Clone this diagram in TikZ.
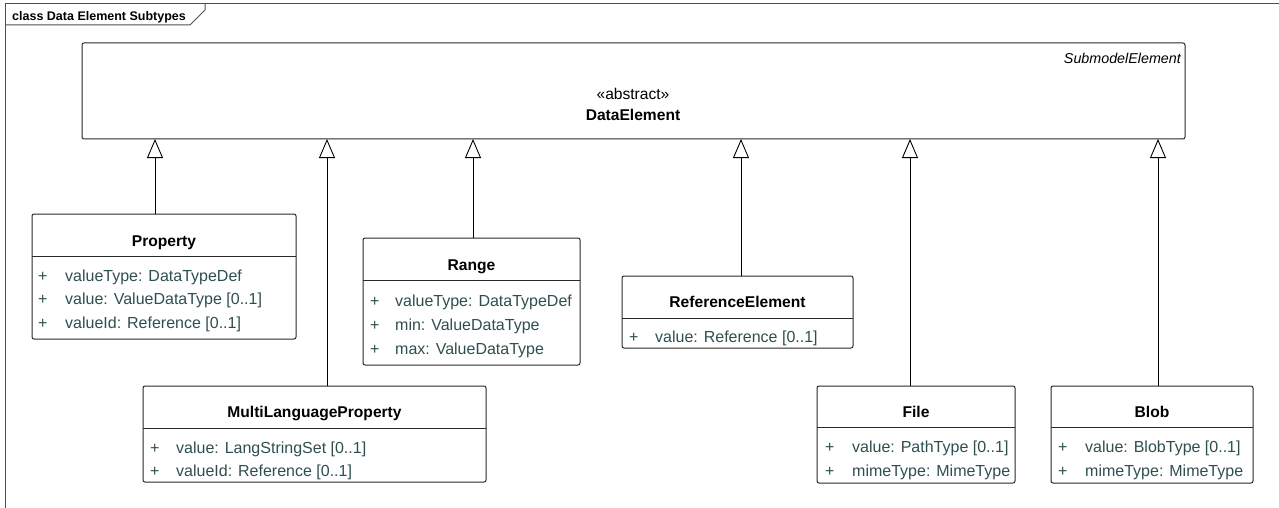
\documentclass[tikz,border=0pt]{standalone}
\usepackage{fontspec}
\setmainfont{Liberation Sans}
\usetikzlibrary{arrows.meta}
\definecolor{attrc}{RGB}{47,79,79}
\definecolor{lc}{RGB}{40,40,40}
\definecolor{fc}{RGB}{80,80,80}
\begin{document}
\begin{tikzpicture}[x=1pt,y=-1pt,
  box/.style={draw=lc, line width=1pt, rounded corners=2pt, inner sep=0pt, outer sep=0pt, fill=white, anchor=north west},
  ttl/.style={font=\fontsize{15.6}{18}\selectfont\bfseries, anchor=base, inner sep=0pt},
  attr/.style={font=\fontsize{16}{19}\selectfont, text=attrc, anchor=base west, inner sep=0pt},
  gen/.style={draw=black, line width=0.9pt, -{Triangle[open, length=19pt, width=16pt]}},
  div/.style={draw=lc, line width=1pt},
  frm/.style={draw=fc, line width=1pt}]
\useasboundingbox (0,0) rectangle (1279,508);

% frame
\draw[frm] (5,508) -- (5,4) -- (1279,4);
\draw[frm] (5,25) -- (190,25) -- (205,10) -- (205,4);
\node[font=\fontsize{12.5}{15}\selectfont\bfseries, anchor=base west, inner sep=0pt] (flabel) at (12,20.5) {class Data Element Subtypes};

% DataElement
\node[box, minimum width=1103pt, minimum height=96pt] (de) at (82,43) {};
\node[font=\fontsize{14.3}{17}\selectfont\itshape, anchor=base east, inner sep=0pt] (deparent) at (1181,64) {SubmodelElement};
\node[font=\fontsize{15.6}{18}\selectfont, anchor=base, inner sep=0pt] (destereo) at (633,99.5) {«abstract»};
\node[ttl] (detitle) at (633,120.5) {DataElement};

% Property
\node[box, minimum width=264pt, minimum height=125pt] (prop) at (32,214) {};
\draw[div] (prop.west |- 0,256) -- (prop.east |- 0,256);
\node[ttl] (propT) at (prop.north |- 0,246.5) {Property};
\node[attr] (propP1) at (38,281) {+};
\node[attr] (propA1) at (65,281) {valueType: DataTypeDef};
\node[attr] (propP2) at (38,304.5) {+};
\node[attr] (propA2) at (65,304.5) {value: ValueDataType [0..1]};
\node[attr] (propP3) at (38,328) {+};
\node[attr] (propA3) at (65,328) {valueId: Reference [0..1]};

% Range
\node[box, minimum width=217pt, minimum height=127pt] (range) at (363,238) {};
\draw[div] (range.west |- 0,280) -- (range.east |- 0,280);
\node[ttl] (rangeT) at (range.north |- 0,270.5) {Range};
\node[attr] (rangeP1) at (370,306.5) {+};
\node[attr] (rangeA1) at (395,306.5) {valueType: DataTypeDef};
\node[attr] (rangeP2) at (370,330.5) {+};
\node[attr] (rangeA2) at (395,330.5) {min: ValueDataType};
\node[attr] (rangeP3) at (370,354.5) {+};
\node[attr] (rangeA3) at (395,354.5) {max: ValueDataType};

% ReferenceElement
\node[box, minimum width=231pt, minimum height=72pt] (ref) at (622,276) {};
\draw[div] (ref.west |- 0,318) -- (ref.east |- 0,318);
\node[ttl] (refT) at (ref.north |- 0,307.5) {ReferenceElement};
\node[attr] (refP1) at (629,342.5) {+};
\node[attr] (refA1) at (655,342.5) {value: Reference [0..1]};

% MultiLanguageProperty
\node[box, minimum width=343pt, minimum height=96pt] (mlp) at (143,386) {};
\draw[div] (mlp.west |- 0,428) -- (mlp.east |- 0,428);
\node[ttl] (mlpT) at (mlp.north |- 0,417.5) {MultiLanguageProperty};
\node[attr] (mlpP1) at (150,453.5) {+};
\node[attr] (mlpA1) at (176,453.5) {value: LangStringSet [0..1]};
\node[attr] (mlpP2) at (150,476.5) {+};
\node[attr] (mlpA2) at (176,476.5) {valueId: Reference [0..1]};

% File
\node[box, minimum width=198pt, minimum height=97pt] (file) at (817,386) {};
\draw[div] (file.west |- 0,427) -- (file.east |- 0,427);
\node[ttl] (fileT) at (file.north |- 0,417.5) {File};
\node[attr] (fileP1) at (825,452.5) {+};
\node[attr] (fileA1) at (852,452.5) {value: PathType [0..1]};
\node[attr] (fileP2) at (825,476.5) {+};
\node[attr] (fileA2) at (852,476.5) {mimeType: MimeType};

% Blob
\node[box, minimum width=202pt, minimum height=97pt] (blob) at (1051,386) {};
\draw[div] (blob.west |- 0,427) -- (blob.east |- 0,427);
\node[ttl] (blobT) at (blob.north |- 0,417.5) {Blob};
\node[attr] (blobP1) at (1058,452.5) {+};
\node[attr] (blobA1) at (1085,452.5) {value: BlobType [0..1]};
\node[attr] (blobP2) at (1058,476.5) {+};
\node[attr] (blobA2) at (1085,476.5) {mimeType: MimeType};

% generalizations
\draw[gen] ([xshift=-9pt]prop.north) -- ([xshift=-9pt]prop.north |- de.south);
\draw[gen] ([xshift=12.5pt]mlp.north) -- ([xshift=12.5pt]mlp.north |- de.south);
\draw[gen] ([xshift=1.5pt]range.north) -- ([xshift=1.5pt]range.north |- de.south);
\draw[gen] ([xshift=3.5pt]ref.north) -- ([xshift=3.5pt]ref.north |- de.south);
\draw[gen] ([xshift=-6pt]file.north) -- ([xshift=-6pt]file.north |- de.south);
\draw[gen] ([xshift=6pt]blob.north) -- ([xshift=6pt]blob.north |- de.south);
\end{tikzpicture}
\end{document}
